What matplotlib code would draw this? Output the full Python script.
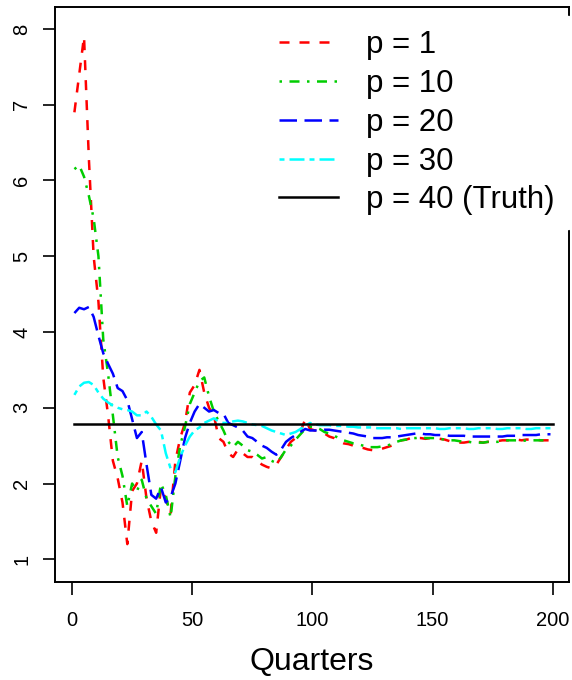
import numpy as np
import matplotlib
matplotlib.use("Agg")
from matplotlib import pyplot as plt

plt.rcParams['font.family'] = ['Liberation Sans', 'DejaVu Sans']

# estimates at every second quarter (1, 3, ..., 199)
p1 = [6.9, 7.4, 7.9, 6.3, 5.0, 4.4, 3.4, 2.9, 2.3, 2.07,
      1.75, 1.2, 1.9, 2.0, 2.3, 1.8, 1.5, 1.35, 1.95, 1.8,
      1.6, 2.3, 2.6, 2.8, 3.2, 3.3, 3.5, 3.2, 3.0, 2.9,
      2.6, 2.55, 2.4, 2.35, 2.45, 2.4, 2.35, 2.35, 2.3, 2.25,
      2.22, 2.2, 2.25, 2.35, 2.45, 2.55, 2.6, 2.68, 2.85, 2.72,
      2.7, 2.68, 2.66, 2.62, 2.6, 2.56, 2.53, 2.52, 2.5, 2.48,
      2.47, 2.45, 2.44, 2.44, 2.46, 2.48, 2.5, 2.54, 2.57, 2.58,
      2.6, 2.6, 2.6, 2.59, 2.6, 2.6, 2.59, 2.58, 2.56, 2.55,
      2.54, 2.54, 2.55, 2.54, 2.55, 2.54, 2.55, 2.55, 2.56, 2.57,
      2.57, 2.57, 2.58, 2.57, 2.58, 2.58, 2.58, 2.57, 2.57, 2.57]

p10 = [6.15, 6.2, 6.05, 5.8, 5.5, 5.0, 3.9, 3.45, 2.9, 2.35,
       2.1, 1.7, 2.0, 1.9, 2.05, 1.8, 1.7, 1.6, 2.0, 1.85,
       1.55, 2.1, 2.5, 2.75, 3.05, 3.2, 3.35, 3.4, 3.15, 2.95,
       2.82, 2.7, 2.55, 2.48, 2.55, 2.5, 2.44, 2.42, 2.38, 2.33,
       2.35, 2.3, 2.27, 2.35, 2.45, 2.5, 2.58, 2.65, 2.72, 2.75,
       2.74, 2.72, 2.68, 2.66, 2.63, 2.6, 2.57, 2.55, 2.53, 2.52,
       2.5, 2.48, 2.48, 2.48, 2.49, 2.5, 2.52, 2.55, 2.57, 2.58,
       2.6, 2.6, 2.61, 2.6, 2.6, 2.6, 2.59, 2.58, 2.57, 2.57,
       2.56, 2.55, 2.55, 2.54, 2.54, 2.54, 2.55, 2.55, 2.55, 2.56,
       2.57, 2.57, 2.57, 2.56, 2.57, 2.57, 2.57, 2.57, 2.57, 2.57]

p20 = [4.25, 4.32, 4.3, 4.33, 4.2, 3.95, 3.72, 3.58, 3.45, 3.26,
       3.22, 3.1, 2.85, 2.6, 2.68, 2.25, 1.85, 1.8, 1.95, 1.75,
       1.82, 2.0, 2.3, 2.6, 2.8, 2.95, 3.05, 3.0, 2.95, 2.97,
       2.93, 2.92, 2.8, 2.77, 2.74, 2.7, 2.62, 2.6, 2.55, 2.5,
       2.47, 2.42, 2.38, 2.45, 2.55, 2.6, 2.64, 2.68, 2.72, 2.7,
       2.7, 2.7, 2.71, 2.71, 2.7, 2.69, 2.68, 2.67, 2.66, 2.64,
       2.63, 2.62, 2.6, 2.6, 2.6, 2.61, 2.61, 2.62, 2.63, 2.64,
       2.65, 2.66, 2.66, 2.65, 2.65, 2.64, 2.64, 2.64, 2.63, 2.63,
       2.63, 2.63, 2.62, 2.62, 2.62, 2.62, 2.62, 2.62, 2.62, 2.62,
       2.63, 2.63, 2.63, 2.64, 2.64, 2.64, 2.64, 2.65, 2.65, 2.65]

p30 = [3.17, 3.28, 3.33, 3.34, 3.3, 3.2, 3.12, 3.07, 3.03, 3.0,
       2.98, 2.97, 2.95, 2.9, 2.9, 2.95, 2.88, 2.78, 2.7, 2.4,
       2.2, 2.15, 2.35, 2.5, 2.62, 2.7, 2.74, 2.8, 2.83, 2.86,
       2.82, 2.8, 2.8, 2.82, 2.83, 2.82, 2.8, 2.78, 2.77, 2.76,
       2.73, 2.7, 2.68, 2.66, 2.64, 2.66, 2.68, 2.72, 2.76, 2.8,
       2.78, 2.77, 2.77, 2.77, 2.76, 2.76, 2.76, 2.75, 2.75, 2.74,
       2.74, 2.74, 2.74, 2.73, 2.73, 2.73, 2.73, 2.73, 2.72, 2.73,
       2.73, 2.73, 2.73, 2.73, 2.73, 2.73, 2.72, 2.72, 2.73, 2.73,
       2.73, 2.73, 2.72, 2.72, 2.73, 2.73, 2.73, 2.73, 2.72, 2.72,
       2.73, 2.73, 2.73, 2.73, 2.72, 2.72, 2.73, 2.73, 2.73, 2.73]

truth = 2.78
labels = ['p = 1', 'p = 10', 'p = 20', 'p = 30', 'p = 40 (Truth)']

quarters = np.arange(1, 200, 2)

fig = plt.figure(figsize=(5.72, 6.8), dpi=100)
ax = fig.add_axes([55/572, 1 - 582/680, 514/572, 575/680])

lw = 1.8
ax.plot(quarters, p1, color='#FF0000', lw=lw, dashes=(4, 4))
ax.plot(quarters, p10, color='#00CD00', lw=lw, dashes=(1, 3, 4, 3))
ax.plot(quarters, p20, color='#0000FF', lw=lw, dashes=(7, 3))
ax.plot(quarters, p30, color='#00FFFF', lw=lw, dashes=(2, 2, 6, 2))
ax.plot([1, 200], [truth, truth], color='black', lw=lw)

ax.set_xlim(-7.07, 206.7)
ax.set_ylim(0.70, 8.29)
ax.set_xticks([0, 50, 100, 150, 200])
ax.set_yticks(range(1, 9))
for s in ax.spines.values():
    s.set_linewidth(1.4)
ax.tick_params(direction='out', length=9, width=1.2, labelsize=14.5, pad=12)
ax.tick_params(axis='y', pad=8)
for t in ax.get_yticklabels():
    t.set_rotation(90)
    t.set_va('center')
ax.set_xlabel('Quarters', fontsize=23, labelpad=12)

leg = ax.legend(labels, loc='upper right', bbox_to_anchor=(1.0, 0.984),
                fontsize=22.5, frameon=True,
                facecolor='white', edgecolor='white', framealpha=1,
                fancybox=False, borderaxespad=0, handlelength=1.9,
                handletextpad=0.9, labelspacing=0.28, borderpad=0.45)

fig.savefig('out.png', dpi=100)
